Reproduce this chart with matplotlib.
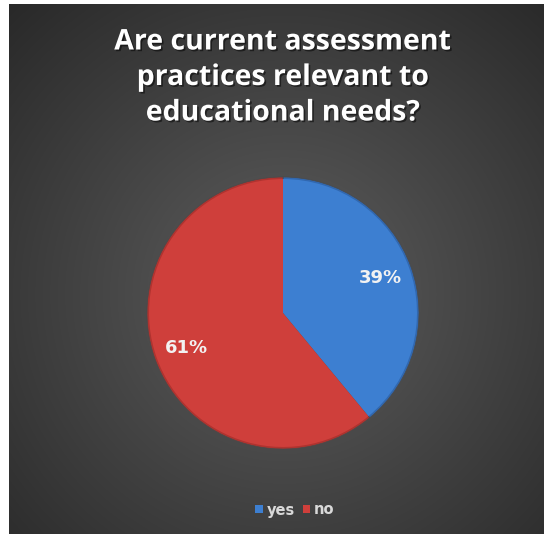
import numpy as np
import matplotlib.pyplot as plt
import matplotlib.patheffects as pe

labels = ["yes", "no"]
shares = [39, 61]
colors = ["#3d7fd1", "#cf3f3b"]
edge_colors = ["#3168b0", "#b0332f"]

fig = plt.figure(figsize=(5.46, 5.34), dpi=100)
fig.patch.set_facecolor("white")

# dark radial background panel
bg = fig.add_axes([9 / 546, 0, 535 / 546, 530 / 534])
yy, xx = np.mgrid[0:530, 0:535]
cx, cy = 275, 290
d = np.sqrt((xx - cx) ** 2 + (yy - cy) ** 2) / 400
shade = np.clip(0.37 - 0.21 * d, 0.14, 0.37)
bg.imshow(np.dstack([shade, shade, shade]), aspect="auto", extent=[0, 1, 0, 1])
bg.axis("off")

# title
title_lines = ["Are current assessment", "practices relevant to", "educational needs?"]
for i, line in enumerate(title_lines):
    fig.text(283 / 546, 1 - (42 + i * 35.5) / 534, line, ha="center", va="center",
             color="white", fontsize=20.5, fontweight="bold", family="Open Sans",
             path_effects=[pe.withSimplePatchShadow(offset=(1.2, -1.2), shadow_rgbFace="black", alpha=0.5)])

# pie
r = 136
ax = fig.add_axes([(283 - r) / 546, (534 - 313 - r) / 534, 2 * r / 546, 2 * r / 534])
ax.pie(shares, colors=edge_colors, startangle=90, counterclock=False,
       wedgeprops=dict(edgecolor="#4a4a4a", linewidth=0.5))
wedges, texts, autotexts = ax.pie(
    shares, colors=colors, startangle=90, counterclock=False, radius=0.985,
    autopct="%d%%", pctdistance=0.77,
    textprops=dict(color="#f2f2f2", fontsize=13, fontweight=700, family="DejaVu Sans"),
    wedgeprops=dict(linewidth=0))
ax.set_xlim(-1, 1)
ax.set_ylim(-1, 1)
ax.set_aspect("equal")
ax.axis("off")

# legend
leg = fig.legend(wedges, labels, loc="center", bbox_to_anchor=(295 / 546, 1 - 510 / 534),
                 ncol=2, frameon=False, handlelength=0.5, handleheight=0.5,
                 handletextpad=0.3, columnspacing=0.5,
                 prop=dict(family="DejaVu Sans", weight="bold", size=10.5))
for t in leg.get_texts():
    t.set_color("#d9d9d9")

fig.savefig("out.png", dpi=100)
